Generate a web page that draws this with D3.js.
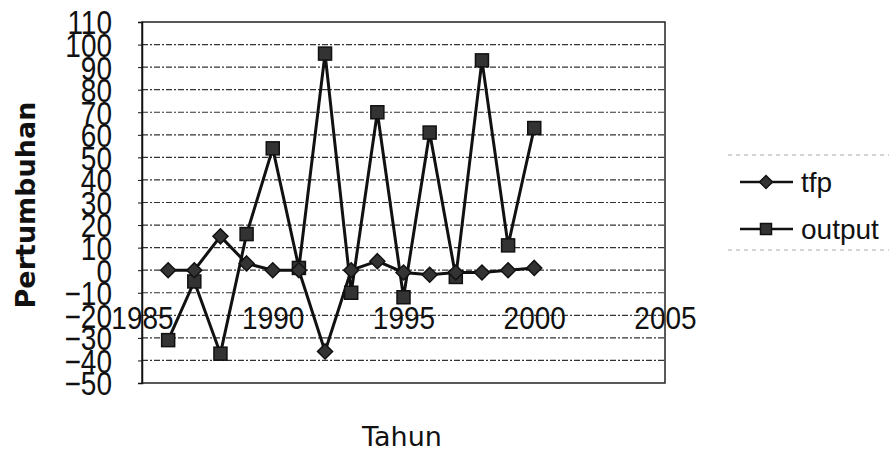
<!DOCTYPE html>
<html>
<head>
<meta charset="utf-8">
<script src="https://cdn.jsdelivr.net/npm/d3@7"></script>
<style>
  body { margin: 0; background: #fff; }
  svg { display: block; }
  .tick text { font-family: "Liberation Sans", Arial, sans-serif; }
</style>
</head>
<body>
<div id="container"></div>
<script>
// data
var years = [1986, 1987, 1988, 1989, 1990, 1991, 1992, 1993, 1994, 1995, 1996, 1997, 1998, 1999, 2000];
var tfp = [0, 0, 15, 3, 0, 0, -36, 0, 4, -1, -2, -1, -1, 0, 1];
var output = [-31, -5, -37, 16, 54, 1, 96, -10, 70, -12, 61, -3, 93, 11, 63];
var yTicks = [-50, -40, -30, -20, -10, 0, 10, 20, 30, 40, 50, 60, 70, 80, 90, 100, 110];
var xTicks = [1985, 1990, 1995, 2000, 2005];
var seriesNames = ["tfp", "output"];

var W = 889, H = 452;
var plot = {left: 142, right: 665, top: 22, bottom: 383};

var svg = d3.select("#container").append("svg")
    .attr("width", W)
    .attr("height", H);

var x = d3.scaleLinear().domain([1985, 2005]).range([plot.left, plot.right]);
var y = d3.scaleLinear().domain([-50, 110]).range([plot.bottom, plot.top]);

// gridlines
svg.append("g")
    .selectAll("line")
    .data(yTicks.filter(function(d) { return d > -50 && d < 110; }))
    .enter()
    .append("line")
    .attr("x1", plot.left)
    .attr("x2", plot.right)
    .attr("y1", function(d) { return y(d); })
    .attr("y2", function(d) { return y(d); })
    .attr("stroke", "#333")
    .attr("stroke-width", 1.2)
    .attr("stroke-dasharray", "6,2,2,2");

// plot border
svg.append("rect")
    .attr("x", plot.left)
    .attr("y", plot.top)
    .attr("width", plot.right - plot.left)
    .attr("height", plot.bottom - plot.top)
    .attr("fill", "none")
    .attr("stroke", "#222")
    .attr("stroke-width", 1.5);

// y axis
var yAxis = svg.append("g")
    .attr("transform", "translate(" + plot.left + ",0)")
    .call(d3.axisLeft(y).tickValues(yTicks).tickSize(4).tickPadding(26));
yAxis.select(".domain").attr("stroke", "#111").attr("stroke-width", 1.5);
yAxis.selectAll(".tick line").attr("stroke", "#111");
yAxis.selectAll(".tick text")
    .attr("font-size", 28)
    .attr("fill", "#111")
    .attr("dy", "0.36em")
    .attr("transform", "scale(1,1.18)");

// x axis labels (sit near the -20 line)
var xAxis = svg.append("g")
    .attr("transform", "translate(0," + y(-14) + ")")
    .call(d3.axisBottom(x).tickValues(xTicks).tickFormat(d3.format("d")).tickSize(0).tickPadding(4));
xAxis.select(".domain").remove();
xAxis.selectAll(".tick text")
    .attr("font-size", 28)
    .attr("fill", "#111")
    .attr("transform", "scale(1,1.12)");

// lines
var line = d3.line()
    .x(function(d, i) { return x(years[i]); })
    .y(function(d) { return y(d); });

svg.append("path")
    .datum(output)
    .attr("d", line)
    .attr("fill", "none")
    .attr("stroke", "#111")
    .attr("stroke-width", 3);

svg.append("path")
    .datum(tfp)
    .attr("d", line)
    .attr("fill", "none")
    .attr("stroke", "#111")
    .attr("stroke-width", 3);

// markers
function square(g, cx, cy, s) {
    g.append("rect")
        .attr("x", cx - s / 2)
        .attr("y", cy - s / 2)
        .attr("width", s)
        .attr("height", s)
        .attr("fill", "#333")
        .attr("stroke", "#111")
        .attr("stroke-width", 1.5);
}
function diamond(g, cx, cy, s) {
    g.append("path")
        .attr("d", "M" + cx + "," + (cy - s / 2) + "L" + (cx + s / 2) + "," + cy +
                   "L" + cx + "," + (cy + s / 2) + "L" + (cx - s / 2) + "," + cy + "Z")
        .attr("fill", "#333")
        .attr("stroke", "#111")
        .attr("stroke-width", 1.5);
}

var marks = svg.append("g");
output.forEach(function(v, i) { square(marks, x(years[i]), y(v), 13); });
tfp.forEach(function(v, i) { diamond(marks, x(years[i]), y(v), 15); });

// axis titles
svg.append("text")
    .attr("transform", "translate(35," + 205 + ") rotate(-90)")
    .attr("text-anchor", "middle")
    .attr("font-family", "DejaVu Sans, sans-serif")
    .attr("font-size", 27)
    .attr("font-weight", 600)
    .attr("fill", "#111")
    .text("Pertumbuhan");

svg.append("text")
    .attr("x", 402)
    .attr("y", 446)
    .attr("text-anchor", "middle")
    .attr("font-family", "DejaVu Sans, sans-serif")
    .attr("font-size", 27)
    .attr("fill", "#111")
    .text("Tahun");

// legend
var legend = svg.append("g");
[155, 250].forEach(function(ly) {
    legend.append("line")
        .attr("x1", 728).attr("x2", 889)
        .attr("y1", ly).attr("y2", ly)
        .attr("stroke", "#aaa")
        .attr("stroke-width", 1)
        .attr("stroke-dasharray", "4,4");
});
seriesNames.forEach(function(name, i) {
    var ly = 182 + i * 47;
    legend.append("line")
        .attr("x1", 740).attr("x2", 793)
        .attr("y1", ly).attr("y2", ly)
        .attr("stroke", "#111")
        .attr("stroke-width", 2.4);
    if (i === 0) diamond(legend, 766, ly, 13);
    else square(legend, 766, ly, 11);
    legend.append("text")
        .attr("x", 801)
        .attr("y", ly + 10)
        .attr("font-family", "Liberation Sans, Arial, sans-serif")
        .attr("font-size", 28)
        .attr("fill", "#111")
        .text(name);
});
</script>
</body>
</html>
